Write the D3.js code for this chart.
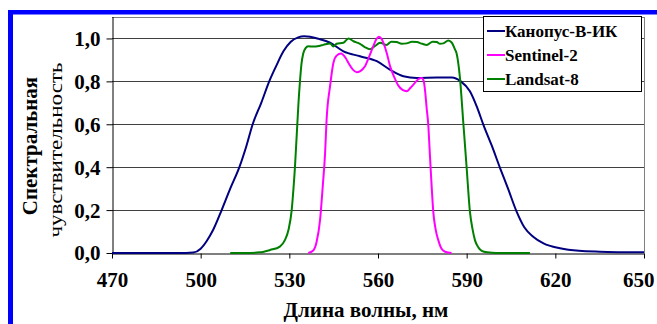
<!DOCTYPE html>
<html>
<head>
<meta charset="utf-8">
<script src="https://cdn.jsdelivr.net/npm/d3@7"></script>
<style>
  body { margin: 0; background: #fff; }
  .axis path, .axis line { stroke: #000; }
</style>
</head>
<body>
<svg width="657" height="324"></svg>
<script>
// wavelengths (nm) and relative response for each sensor
const kanopusNm = [470, 495, 497.5, 500, 502, 504.2, 507.1, 510, 513.1, 515.5, 517.6, 520.5, 523.2, 525.5, 528, 530.5, 533, 535, 537, 540, 543.8, 548.3, 553.9, 559.6, 564, 568.6, 573.1, 580, 585, 588, 591.1, 593.5, 595.6, 598.5, 601.3, 604, 606.9, 609.5, 612.5, 616, 621.6, 628, 635, 650];
const kanopusVal = [0, 0, 0.002, 0.02, 0.055, 0.107, 0.2, 0.3, 0.4, 0.5, 0.6, 0.7, 0.8, 0.87, 0.94, 0.985, 1.005, 1.01, 1.008, 0.998, 0.98, 0.94, 0.917, 0.894, 0.855, 0.824, 0.816, 0.818, 0.818, 0.8, 0.754, 0.68, 0.6, 0.5, 0.396, 0.3, 0.193, 0.12, 0.076, 0.045, 0.022, 0.01, 0.006, 0.003];

const sentinelNm = [536.4, 538, 539.2, 540.4, 541.3, 542.1, 542.6, 543.8, 544.9, 546, 547.5, 549, 550, 551.5, 552.8, 554, 555.6, 557, 558.4, 559.5, 560.3, 561.2, 561.8, 563, 564.1, 565.5, 566.9, 568.3, 569.7, 571, 572.5, 573.8, 574.8, 575.5, 575.9, 576.5, 577, 577.4, 577.8, 578.2, 578.7, 579.5, 580.4, 581.5, 582.7, 584.9];
const sentinelVal = [0, 0.01, 0.05, 0.154, 0.31, 0.466, 0.62, 0.78, 0.886, 0.92, 0.93, 0.91, 0.886, 0.855, 0.843, 0.848, 0.87, 0.915, 0.964, 0.998, 1.008, 0.998, 0.98, 0.93, 0.87, 0.82, 0.78, 0.76, 0.754, 0.77, 0.793, 0.812, 0.816, 0.8, 0.76, 0.67, 0.6, 0.5, 0.396, 0.3, 0.193, 0.11, 0.06, 0.02, 0.006, 0];

const landsatNm = [510, 515, 520, 523.5, 526.8, 528.5, 529.7, 530.8, 531.4, 531.9, 532.3, 532.7, 533.1, 533.6, 534.1, 534.7, 535.5, 536.4, 538, 540, 541.5, 543.8, 544.9, 546, 548.3, 550, 551.7, 553.9, 555.5, 557.3, 559, 560.7, 562.9, 564.5, 566.3, 568, 569.7, 571.5, 573.1, 575, 576.5, 578.5, 579.9, 581, 582.1, 583.8, 585, 586, 586.6, 587.7, 588.9, 590, 591.1, 592, 592.8, 594, 595.1, 597, 600, 611.4];
const landsatVal = [0, 0, 0.003, 0.014, 0.03, 0.06, 0.107, 0.2, 0.3, 0.4, 0.5, 0.6, 0.7, 0.8, 0.88, 0.93, 0.955, 0.964, 0.962, 0.965, 0.97, 0.977, 0.962, 0.975, 0.98, 1.0, 0.987, 0.975, 0.96, 0.95, 0.965, 0.98, 0.97, 0.985, 0.983, 0.975, 0.977, 0.985, 0.983, 0.975, 0.97, 0.985, 0.983, 0.975, 0.977, 0.99, 0.98, 0.95, 0.93, 0.82, 0.6, 0.396, 0.193, 0.11, 0.06, 0.025, 0.01, 0.003, 0, 0];

const seriesNames = ["Канопус-В-ИК", "Sentinel-2", "Landsat-8"];
const seriesColors = ["#000080", "#ff00ff", "#008000"];
const xTicks = [470, 500, 530, 560, 590, 620, 650];
const yTicks = [0, 0.2, 0.4, 0.6, 0.8, 1.0];

const FONT = "'Liberation Serif', 'Times New Roman', Tinos, 'DejaVu Serif', 'Noto Serif', serif";

const svg = d3.select("svg");

// blue frame (top and left edges only)
svg.append("rect").attr("x", 8).attr("y", 10).attr("width", 649).attr("height", 4.5).attr("fill", "#0000ff");
svg.append("rect").attr("x", 8).attr("y", 10).attr("width", 5).attr("height", 314).attr("fill", "#0000ff");

const x = d3.scaleLinear().domain([470, 650]).range([112, 644]);
const y = d3.scaleLinear().domain([0, 1.1]).range([253, 17]);

// plot area border (top and right)
svg.append("line").attr("x1", 112).attr("x2", 644).attr("y1", 17.5).attr("y2", 17.5).attr("stroke", "#808080");
svg.append("line").attr("x1", 644.5).attr("x2", 644.5).attr("y1", 17).attr("y2", 253).attr("stroke", "#808080");

// gridlines
svg.append("g").selectAll("line")
    .data(yTicks.filter(d => d > 0))
    .enter().append("line")
    .attr("x1", 112).attr("x2", 644)
    .attr("y1", d => Math.round(y(d)) + 0.5)
    .attr("y2", d => Math.round(y(d)) + 0.5)
    .attr("stroke", "#404040");

// axes
const xAxis = svg.append("g")
    .attr("class", "axis")
    .attr("transform", "translate(0,253.5)")
    .call(d3.axisBottom(x).tickValues(xTicks).tickSize(5).tickSizeOuter(0).tickFormat(d => d));
xAxis.attr("font-family", FONT).attr("font-size", 21).attr("font-weight", "bold");
xAxis.selectAll("text").attr("y", 33).attr("dy", 0).attr("fill", "#000");
// last label sits slightly left so it stays inside the picture
xAxis.selectAll("text").filter(d => d === 650).attr("text-anchor", "end").attr("x", 10);

const yAxis = svg.append("g")
    .attr("class", "axis")
    .attr("transform", "translate(112.5,0)")
    .call(d3.axisLeft(y).tickValues(yTicks).tickSize(6).tickSizeOuter(0)
        .tickFormat(d => d.toFixed(1).replace(".", ",")));
yAxis.attr("font-family", FONT).attr("font-size", 21).attr("font-weight", "bold");
yAxis.selectAll("text").attr("x", -12).attr("dy", "0.33em").attr("fill", "#000");
yAxis.select(".domain").attr("d", "M0.5,17V253");

// series lines
const line = d3.line()
    .x(d => x(d[0]))
    .y(d => y(d[1]))
    .curve(d3.curveMonotoneX);

const series = [
    d3.zip(kanopusNm, kanopusVal),
    d3.zip(sentinelNm, sentinelVal),
    d3.zip(landsatNm, landsatVal)
];

// draw order: blue, green, magenta on top like the original
[0, 2, 1].forEach(i => {
    svg.append("path")
        .datum(series[i])
        .attr("fill", "none")
        .attr("stroke", seriesColors[i])
        .attr("stroke-width", 2)
        .attr("d", line);
});

// axis titles
svg.append("text")
    .attr("x", 366).attr("y", 317)
    .attr("text-anchor", "middle")
    .attr("font-family", FONT)
    .attr("font-size", 21).attr("font-weight", "bold")
    .text("Длина волны, нм");

svg.append("text")
    .attr("transform", "translate(37,146) rotate(-90)")
    .attr("text-anchor", "middle")
    .attr("font-family", FONT)
    .attr("font-size", 21).attr("font-weight", "bold")
    .text("Спектральная");

svg.append("text")
    .attr("transform", "translate(62,150) rotate(-90)")
    .attr("text-anchor", "middle")
    .attr("font-family", FONT)
    .attr("font-size", 18)
    .attr("textLength", 175).attr("lengthAdjust", "spacingAndGlyphs")
    .text("чувствительность");

// legend
const legend = svg.append("g");
legend.append("rect")
    .attr("x", 483.5).attr("y", 16.5)
    .attr("width", 158).attr("height", 75)
    .attr("fill", "#fff").attr("stroke", "#000");

const rowY = [31, 55, 79];
seriesNames.forEach((name, i) => {
    legend.append("line")
        .attr("x1", 487).attr("x2", 505)
        .attr("y1", rowY[i]).attr("y2", rowY[i])
        .attr("stroke", seriesColors[i]).attr("stroke-width", 2);
    legend.append("text")
        .attr("x", 505).attr("y", rowY[i] + 6)
        .attr("font-family", FONT)
        .attr("font-size", 17).attr("font-weight", "bold")
        .text(name);
});
</script>
</body>
</html>
